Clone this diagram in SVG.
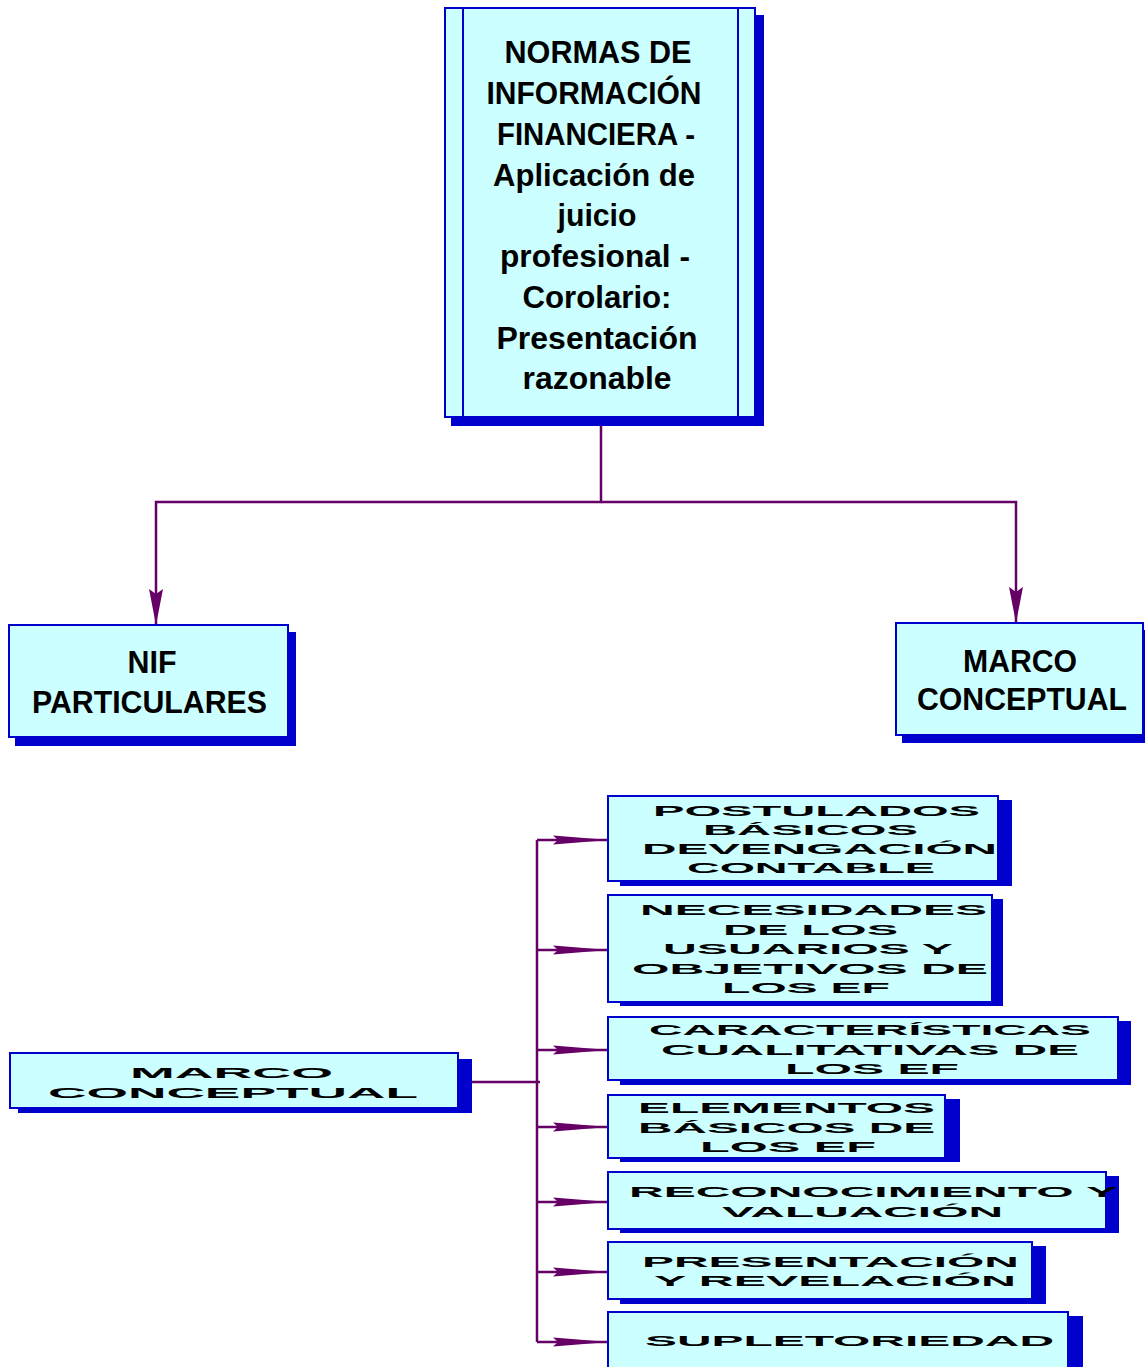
<svg xmlns="http://www.w3.org/2000/svg" width="1145" height="1367" viewBox="0 0 1145 1367">
<style>
.box{fill:#CCFFFF;stroke:#0000CC;stroke-width:2}
.sh{fill:#0000CC}
.inner{stroke:#0000CC;stroke-width:2;fill:none}
.t{font-family:"Liberation Sans",Arial,sans-serif;font-weight:bold;font-size:32px;fill:#000;text-anchor:middle}
.w{font-family:"Liberation Sans",Arial,sans-serif;font-weight:900;font-size:15.5px;fill:#000}
.c{stroke:#660066;stroke-width:2.5;fill:none}
</style>
<defs>
<marker id="ah" markerUnits="userSpaceOnUse" viewBox="0 -8 56 16" markerWidth="56" markerHeight="16" refX="55" refY="0" orient="auto" overflow="visible">
<path d="M0,-4.5 L56,0 L0,4.5 L5,0 Z" fill="#660066"/>
</marker>
<marker id="av" markerUnits="userSpaceOnUse" viewBox="0 -8 36 16" markerWidth="36" markerHeight="16" refX="35" refY="0" orient="auto" overflow="visible">
<path d="M0,-7 L36,0 L0,7 L5,0 Z" fill="#660066"/>
</marker>
</defs>

<g id="connectors">
<path class="c" d="M601,425 V502 H156 V624" marker-end="url(#av)"/>
<path class="c" d="M601,502 H1016 V622" marker-end="url(#av)"/>
<path class="c" d="M471,1082 H540"/>
<path class="c" d="M537,840 V1342"/>
<path class="c" d="M537,840 H608" marker-end="url(#ah)"/>
<path class="c" d="M537,950 H608" marker-end="url(#ah)"/>
<path class="c" d="M537,1050 H608" marker-end="url(#ah)"/>
<path class="c" d="M537,1127 H608" marker-end="url(#ah)"/>
<path class="c" d="M537,1202 H608" marker-end="url(#ah)"/>
<path class="c" d="M537,1272 H608" marker-end="url(#ah)"/>
<path class="c" d="M537,1342 H608" marker-end="url(#ah)"/>
</g>

<g id="nif-main">
<rect class="sh" x="451" y="15" width="313" height="411"/>
<rect class="box" x="445" y="8" width="310" height="409"/>
<line class="inner" x1="463" y1="8" x2="463" y2="417"/>
<line class="inner" x1="738" y1="8" x2="738" y2="417"/>
<text class="t" x="598" y="63" textLength="187" lengthAdjust="spacingAndGlyphs">NORMAS DE</text>
<text class="t" x="594" y="104" textLength="215" lengthAdjust="spacingAndGlyphs">INFORMACIÓN</text>
<text class="t" x="596" y="145" textLength="198" lengthAdjust="spacingAndGlyphs">FINANCIERA -</text>
<text class="t" x="594" y="186" textLength="202" lengthAdjust="spacingAndGlyphs">Aplicación de</text>
<text class="t" x="597" y="226" textLength="79" lengthAdjust="spacingAndGlyphs">juicio</text>
<text class="t" x="595" y="267" textLength="190" lengthAdjust="spacingAndGlyphs">profesional -</text>
<text class="t" x="597" y="308" textLength="149" lengthAdjust="spacingAndGlyphs">Corolario:</text>
<text class="t" x="597" y="349" textLength="201" lengthAdjust="spacingAndGlyphs">Presentación</text>
<text class="t" x="597" y="389" textLength="149" lengthAdjust="spacingAndGlyphs">razonable</text>
</g>

<g id="nif-particulares">
<rect class="sh" x="15" y="632" width="281" height="114"/>
<rect class="box" x="9" y="625" width="279" height="112"/>
<text class="t" x="152" y="673" textLength="49" lengthAdjust="spacingAndGlyphs">NIF</text>
<text class="t" x="149.5" y="713" textLength="235" lengthAdjust="spacingAndGlyphs">PARTICULARES</text>
</g>

<g id="marco-conceptual-top">
<rect class="sh" x="902" y="630" width="250" height="113"/>
<rect class="box" x="896" y="623" width="247" height="112"/>
<text class="t" x="1020" y="672" textLength="114" lengthAdjust="spacingAndGlyphs">MARCO</text>
<text class="t" x="1022" y="710" textLength="210" lengthAdjust="spacingAndGlyphs">CONCEPTUAL</text>
</g>

<g id="marco-conceptual">
<rect class="sh" x="18" y="1059" width="454" height="54"/>
<rect class="box" x="10" y="1053" width="448" height="55"/>
<text class="w" x="130" y="1078" textLength="203" lengthAdjust="spacingAndGlyphs">MARCO</text>
<text class="w" x="48" y="1098" textLength="370" lengthAdjust="spacingAndGlyphs">CONCEPTUAL</text>
</g>

<g id="postulados">
<rect class="sh" x="620" y="800" width="392" height="86"/>
<rect class="box" x="608" y="796" width="390" height="85"/>
<text class="w" x="653" y="816" textLength="327" lengthAdjust="spacingAndGlyphs">POSTULADOS</text>
<text class="w" x="703" y="835" textLength="215" lengthAdjust="spacingAndGlyphs">BÁSICOS</text>
<text class="w" x="642" y="854" textLength="355" lengthAdjust="spacingAndGlyphs">DEVENGACIÓN</text>
<text class="w" x="687" y="873" textLength="248" lengthAdjust="spacingAndGlyphs">CONTABLE</text>
</g>

<g id="necesidades">
<rect class="sh" x="620" y="899" width="383" height="107"/>
<rect class="box" x="608" y="895" width="384" height="107"/>
<text class="w" x="640" y="915" textLength="347" lengthAdjust="spacingAndGlyphs">NECESIDADES</text>
<text class="w" x="723" y="935" textLength="175" lengthAdjust="spacingAndGlyphs">DE LOS</text>
<text class="w" x="663" y="954" textLength="290" lengthAdjust="spacingAndGlyphs">USUARIOS Y</text>
<text class="w" x="632" y="974" textLength="356" lengthAdjust="spacingAndGlyphs">OBJETIVOS DE</text>
<text class="w" x="722" y="993" textLength="168" lengthAdjust="spacingAndGlyphs">LOS EF</text>
</g>

<g id="caracteristicas">
<rect class="sh" x="620" y="1021" width="511" height="64"/>
<rect class="box" x="608" y="1017" width="510" height="63"/>
<text class="w" x="649" y="1035" textLength="442" lengthAdjust="spacingAndGlyphs">CARACTERÍSTICAS</text>
<text class="w" x="661" y="1055" textLength="418" lengthAdjust="spacingAndGlyphs">CUALITATIVAS DE</text>
<text class="w" x="785" y="1074" textLength="174" lengthAdjust="spacingAndGlyphs">LOS EF</text>
</g>

<g id="elementos">
<rect class="sh" x="620" y="1099" width="340" height="63"/>
<rect class="box" x="608" y="1095" width="337" height="63"/>
<text class="w" x="638" y="1113" textLength="297" lengthAdjust="spacingAndGlyphs">ELEMENTOS</text>
<text class="w" x="638" y="1133" textLength="297" lengthAdjust="spacingAndGlyphs">BÁSICOS DE</text>
<text class="w" x="700" y="1152" textLength="176" lengthAdjust="spacingAndGlyphs">LOS EF</text>
</g>

<g id="reconocimiento">
<rect class="sh" x="620" y="1176" width="499" height="57"/>
<rect class="box" x="608" y="1172" width="498" height="57"/>
<text class="w" x="629" y="1197" textLength="489" lengthAdjust="spacingAndGlyphs">RECONOCIMIENTO Y</text>
<text class="w" x="722" y="1217" textLength="281" lengthAdjust="spacingAndGlyphs">VALUACIÓN</text>
</g>

<g id="presentacion">
<rect class="sh" x="620" y="1246" width="426" height="58"/>
<rect class="box" x="608" y="1242" width="424" height="57"/>
<text class="w" x="642" y="1267" textLength="377" lengthAdjust="spacingAndGlyphs">PRESENTACIÓN</text>
<text class="w" x="654" y="1286" textLength="362" lengthAdjust="spacingAndGlyphs">Y REVELACIÓN</text>
</g>

<g id="supletoriedad">
<rect class="sh" x="620" y="1316" width="463" height="60"/>
<rect class="box" x="608" y="1312" width="460" height="60"/>
<text class="w" x="645" y="1346" textLength="409" lengthAdjust="spacingAndGlyphs">SUPLETORIEDAD</text>
</g>
</svg>
